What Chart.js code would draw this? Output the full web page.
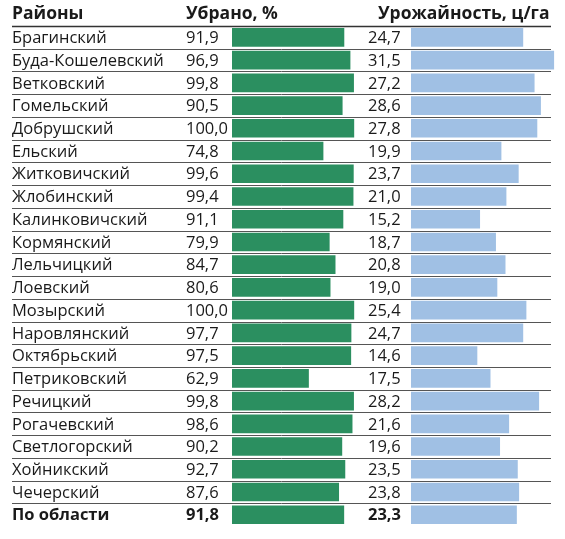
<!DOCTYPE html>
<html lang="ru">
<head>
<meta charset="utf-8">
<title>Уборка урожая по районам</title>
<script src="https://cdn.jsdelivr.net/npm/chart.js@4/dist/chart.umd.min.js"></script>
<style>
  html, body { margin: 0; padding: 0; background: #fff; }
  #wrap { width: 565px; height: 539px; }
</style>
</head>
<body>
<div id="wrap"><canvas id="harvestChart" width="565" height="539"></canvas></div>
<script>
 // Данные
 const districts = ['Брагинский', 'Буда-Кошелевский', 'Ветковский', 'Гомельский', 'Добрушский',
     'Ельский', 'Житковичский', 'Жлобинский', 'Калинковичский', 'Кормянский', 'Лельчицкий',
     'Лоевский', 'Мозырский', 'Наровлянский', 'Октябрьский', 'Петриковский', 'Речицкий',
     'Рогачевский', 'Светлогорский', 'Хойникский', 'Чечерский', 'По области'];
 const harvested = [91.9, 96.9, 99.8, 90.5, 100.0, 74.8, 99.6, 99.4, 91.1, 79.9, 84.7,
     80.6, 100.0, 97.7, 97.5, 62.9, 99.8, 98.6, 90.2, 92.7, 87.6, 91.8];
 const yieldValues = [24.7, 31.5, 27.2, 28.6, 27.8, 19.9, 23.7, 21.0, 15.2, 18.7, 20.8,
     19.0, 25.4, 24.7, 14.6, 17.5, 28.2, 21.6, 19.6, 23.5, 23.8, 23.3];
 const headers = ['Районы', 'Убрано, %', 'Урожайность, ц/га'];

 const FONT = '"Open Sans", sans-serif';
 const lastIndex = districts.length - 1;
 const fmt = v => v.toFixed(1).replace('.', ',');

 // Подписи значений, линии строк и шапка
 const tablePlugin = {
     id: 'tablePlugin',
     beforeDatasetsDraw(chart) {
         const ctx = chart.ctx;
         const y = chart.scales.y;
         const step = y.getPixelForValue(1) - y.getPixelForValue(0);
         ctx.save();
         for (let i = 0; i < districts.length; i++) {
             const py = Math.round(y.getPixelForValue(i) - step / 2) + 0.5;
             ctx.strokeStyle = i === 0 ? '#333' : '#555';
             ctx.lineWidth = i === 0 ? 1.5 : 1;
             ctx.beginPath();
             ctx.moveTo(12, py);
             ctx.lineTo(551, py);
             ctx.stroke();
         }
         ctx.restore();
     },
     afterDatasetsDraw(chart) {
         const ctx = chart.ctx;
         const y = chart.scales.y;
         const xG = chart.scales.xG;
         const xB = chart.scales.xB;
         ctx.save();
         ctx.fillStyle = '#1a1a1a';
         ctx.textBaseline = 'middle';
         ctx.textAlign = 'left';
         districts.forEach((d, i) => {
             const py = y.getPixelForValue(i) + 1;
             ctx.font = (i === lastIndex ? 'bold ' : '') + '16.5px ' + FONT;
             ctx.fillText(fmt(harvested[i]), xG.left - 46, py);
             ctx.fillText(fmt(yieldValues[i]), xB.left - 43, py);
         });
         ctx.font = 'bold 17.5px ' + FONT;
         ctx.textBaseline = 'alphabetic';
         ctx.fillText(headers[0], 12, 19);
         ctx.fillText(headers[1], xG.left - 46, 19);
         ctx.fillText(headers[2], 378, 19);
         ctx.restore();
     }
 };

 const chartCtx = document.getElementById('harvestChart').getContext('2d');
 new Chart(chartCtx, {
     type: 'bar',
     data: {
         labels: districts,
         datasets: [{
             label: headers[1],
             data: harvested,
             xAxisID: 'xG',
             backgroundColor: '#2b8f60',
             grouped: false
         }, {
             label: headers[2],
             data: yieldValues,
             xAxisID: 'xB',
             backgroundColor: '#a0c0e4',
             grouped: false
         }]
     },
     options: {
         indexAxis: 'y',
         responsive: false,
         animation: false,
         barPercentage: 0.82,
         categoryPercentage: 1,
         layout: {
             padding: { left: 12, top: 26, right: 0, bottom: 5 }
         },
         plugins: {
             legend: { display: false },
             tooltip: { enabled: false }
         },
         scales: {
             y: {
                 grid: { display: false },
                 border: { display: false },
                 afterFit: function(scale) {
                     scale.width = 220;
                 },
                 ticks: {
                     crossAlign: 'far',
                     labelOffset: 1,
                     color: '#1a1a1a',
                     font: function(c) {
                         return { family: FONT, size: 16.5, weight: c.index === lastIndex ? 'bold' : 'normal' };
                     }
                 }
             },
             xG: {
                 type: 'linear',
                 position: 'bottom',
                 stack: 'cols',
                 stackWeight: 179,
                 min: 0,
                 max: 146.5,
                 display: false
             },
             xB: {
                 type: 'linear',
                 position: 'bottom',
                 stack: 'cols',
                 stackWeight: 154,
                 min: 0,
                 max: 33.9,
                 display: false
             }
         }
     },
     plugins: [tablePlugin]
 });
</script>
</body>
</html>
